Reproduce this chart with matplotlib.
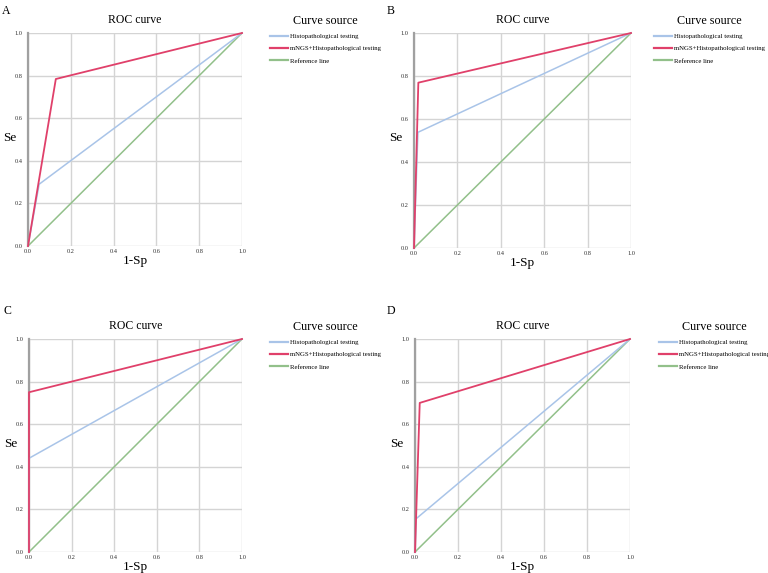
import matplotlib
matplotlib.use("Agg")
import matplotlib.pyplot as plt

plt.rcParams['font.family'] = ['Liberation Serif', 'DejaVu Serif']

panels = ["A", "B", "C", "D"]
histo_x = [[0, 0.052, 1], [0, 0.018, 1], [0, 0.0, 1], [0, 0.005, 1]]
histo_y = [[0, 0.29, 1], [0, 0.538, 1], [0, 0.44, 1], [0, 0.156, 1]]
mngs_x = [[0, 0.13, 1], [0, 0.02, 1], [0, 0.0, 1], [0, 0.022, 1]]
mngs_y = [[0, 0.784, 1], [0, 0.769, 1], [0, 0.75, 1], [0, 0.70, 1]]
ref_x = [0, 1]
ref_y = [0, 1]
ticks = [0.0, 0.2, 0.4, 0.6, 0.8, 1.0]
tick_labels = ["0.0", "0.2", "0.4", "0.6", "0.8", "1.0"]
series_names = ["Histopathological testing", "mNGS+Histopathological testing", "Reference line"]

W, H = 768, 573
# axes boxes in pixels: left, right, top, bottom
boxes = [(28, 242, 33, 246), (414, 631, 33, 248), (29, 242, 339, 552), (415, 630, 339, 552)]
legend_x = [270, 654, 270, 659]
letter_pos = [(2, 5), (387, 5), (3, 305), (387, 305)]

fig = plt.figure(figsize=(W / 100, H / 100), dpi=100)

for i, name in enumerate(panels):
    l, r, t, b = boxes[i]
    ax = fig.add_axes([l / W, 1 - b / H, (r - l) / W, (b - t) / H])
    ax.plot(histo_x[i], histo_y[i], color='#a9c4e8', lw=1.1, label=series_names[0], clip_on=False, zorder=3)
    ax.plot(mngs_x[i], mngs_y[i], color='#e0406a', lw=1.3, label=series_names[1], clip_on=False, zorder=4)
    ax.plot(ref_x, ref_y, color='#92c08a', lw=1.1, label=series_names[2], clip_on=False, zorder=2)
    ax.set_xlim(0, 1)
    ax.set_ylim(0, 1)
    ax.set_xticks(ticks)
    ax.set_yticks(ticks)
    ax.set_xticklabels(tick_labels, fontsize=4.6, color='#333333')
    ax.set_yticklabels(tick_labels, fontsize=4.6, color='#333333')
    ax.tick_params(axis='x', length=0, pad=2)
    ax.tick_params(axis='y', length=0, pad=4)
    ax.grid(True, color='#d4d4d4', lw=1.0)
    ax.set_axisbelow(True)
    for s in ['top', 'right', 'bottom']:
        ax.spines[s].set_visible(False)
    ax.spines['left'].set_color('#a0a0a0')
    ax.spines['left'].set_linewidth(1.6)
    ax.set_title("ROC curve", fontsize=8.5, pad=7)
    ax.set_xlabel("1-Sp", fontsize=9.5, labelpad=1)
    fig.text(10 / W + (l - 28) / W, 1 - (t + 105) / H, "Se", fontsize=9.5, ha='center', va='center')
    leg = ax.legend(loc='upper left', bbox_to_anchor=(legend_x[i] / W, 1 - (t - 18) / H),
                    bbox_transform=fig.transFigure, frameon=False, fontsize=4.9,
                    title="Curve source", title_fontsize=8.7, handlelength=2.6,
                    handletextpad=0.3, labelspacing=0.95, borderpad=0, borderaxespad=0)
    for line in leg.get_lines():
        line.set_linewidth(1.6)
    fig.text(letter_pos[i][0] / W, 1 - letter_pos[i][1] / H, name, fontsize=8.5, va='top', ha='left')

fig.savefig("out.png", dpi=100)
